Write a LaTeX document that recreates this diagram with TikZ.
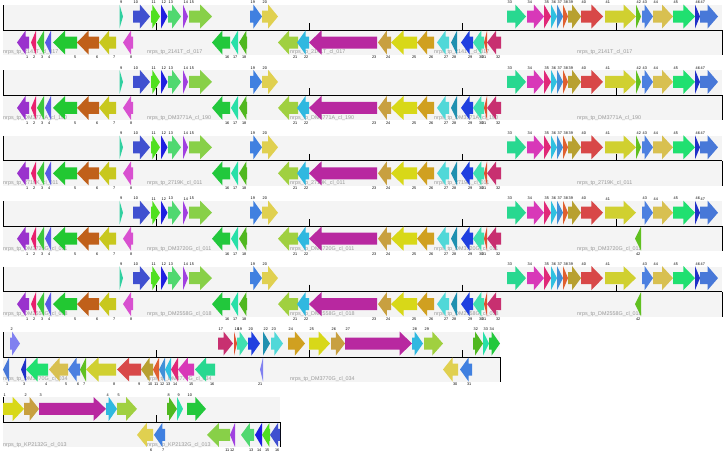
\documentclass[tikz,border=0pt]{standalone}
\usepackage{fontspec}
\setmainfont{Liberation Sans}
% gene family colours
\definecolor{bandgray}{HTML}{F4F4F4}
\definecolor{namegray}{HTML}{999999}
\definecolor{g1}{HTML}{9A32CD}\definecolor{g2}{HTML}{E8206E}\definecolor{g3}{HTML}{3DC83D}
\definecolor{g4}{HTML}{5A5AE6}\definecolor{g5}{HTML}{22C832}\definecolor{g6}{HTML}{C0601A}
\definecolor{g7}{HTML}{C8C81E}\definecolor{g8}{HTML}{D850D0}\definecolor{g9}{HTML}{30D0A0}
\definecolor{g10}{HTML}{4050D0}\definecolor{g11}{HTML}{50E020}\definecolor{g12}{HTML}{2020E0}
\definecolor{g13}{HTML}{50D870}\definecolor{g14}{HTML}{A040E0}\definecolor{g15}{HTML}{88D048}
\definecolor{g16}{HTML}{22C83C}\definecolor{g17}{HTML}{28E0A8}\definecolor{g18}{HTML}{50B820}
\definecolor{g19}{HTML}{4080E0}\definecolor{g20}{HTML}{E0D050}\definecolor{g21}{HTML}{A0D040}
\definecolor{g22}{HTML}{30B8E0}\definecolor{g23}{HTML}{B828A0}\definecolor{g24}{HTML}{C8A040}
\definecolor{g25}{HTML}{D8D818}\definecolor{g26}{HTML}{D0A020}\definecolor{g27}{HTML}{50D8D8}
\definecolor{g28}{HTML}{2090B0}\definecolor{g29}{HTML}{2040E0}\definecolor{g30}{HTML}{40E0B0}
\definecolor{g31}{HTML}{E05030}\definecolor{g32}{HTML}{C83070}\definecolor{g33}{HTML}{28D890}
\definecolor{g34}{HTML}{D838B8}\definecolor{g35}{HTML}{E02878}\definecolor{g36}{HTML}{30C0E0}
\definecolor{g37}{HTML}{4090D8}\definecolor{g38}{HTML}{E06030}\definecolor{g39}{HTML}{B8A030}
\definecolor{g40}{HTML}{D84848}\definecolor{g41}{HTML}{D0D030}\definecolor{g42}{HTML}{60C020}
\definecolor{g43}{HTML}{4C80E0}\definecolor{g44}{HTML}{D8C050}\definecolor{g45}{HTML}{20E070}
\definecolor{g46}{HTML}{2030C8}\definecolor{g47}{HTML}{4878D8}\definecolor{gv}{HTML}{8080F0}
\tikzset{
  band/.style={fill=bandgray},
  axis/.style={line width=.8pt},
  tickmark/.style={line width=.7pt},
  gnum/.style={font=\fontsize{3.8}{4.2}\selectfont,inner sep=0pt},
  cname/.style={font=\fontsize{5.4}{6}\selectfont,text=namegray,inner sep=0pt,anchor=base west},
}
% forward gene: #1 start, #2 end, #3 colour, #4 number
\newcommand\fwdgene[4]{%
  \pgfmathsetmacro\ghead{min(#2-#1,12.5,5+0.3*(#2-#1))}%
  \fill[#3] (#1,-19.5)--({#2-\ghead},-19.5)--({#2-\ghead},-25.5)--(#2,-13.5)
    --({#2-\ghead},-1.5)--({#2-\ghead},-7.5)--(#1,-7.5)--cycle;
  \node[gnum,anchor=south west] (r\rowid g#4) at ({#1+0.5},-26) {#4};}
% reverse gene
\newcommand\revgene[4]{%
  \pgfmathsetmacro\ghead{min(#2-#1,12.5,5+0.3*(#2-#1))}%
  \fill[#3] (#2,6.5)--({#1+\ghead},6.5)--({#1+\ghead},0.5)--(#1,12.5)
    --({#1+\ghead},24.5)--({#1+\ghead},18.5)--(#2,18.5)--cycle;
  \node[gnum,anchor=north east] (r\rowid g#4) at ({#2-0.5},26) {#4};}
% track: #1 right end, #2 ticks, #3 name positions, #4 name
\newcommand\trackbase[4]{%
  \fill[band] (3,-25) rectangle (#1,25);
  \foreach \nx [count=\ni] in {#3} \node[cname] (r\rowid n\ni) at (\nx,23.8) {#4};
  \draw[axis] (3,0) -- (#1,0);
  \draw[axis] (3,-25) -- (3,0);
  \draw[axis] (#1,0) -- (#1,25);
  \foreach \tx in {#2} \draw[tickmark] (\tx,-7) -- (\tx,0);}
% cluster shared by the first five tracks (gene 42 added per track)
\newcommand\clusterA{%
  \revgene{17}{29}{g1}{1}
  \revgene{31}{36}{g2}{2}
  \revgene{37}{44}{g3}{3}
  \revgene{45}{51}{g4}{4}
  \revgene{53}{77}{g5}{5}
  \revgene{77}{99}{g6}{6}
  \revgene{99}{116}{g7}{7}
  \revgene{123}{133}{g8}{8}
  \fwdgene{119.5}{123}{g9}{9}
  \fwdgene{133}{150}{g10}{10}
  \fwdgene{151}{160}{g11}{11}
  \fwdgene{161}{167.5}{g12}{12}
  \fwdgene{168}{181}{g13}{13}
  \fwdgene{183}{188}{g14}{14}
  \fwdgene{189}{212}{g15}{15}
  \revgene{212}{230}{g16}{16}
  \revgene{231}{238}{g17}{17}
  \revgene{239}{247}{g18}{18}
  \fwdgene{250}{262}{g19}{19}
  \fwdgene{262}{278}{g20}{20}
  \revgene{278}{298}{g21}{21}
  \revgene{297}{309}{g22}{22}
  \revgene{309}{377}{g23}{23}
  \revgene{378}{391}{g24}{24}
  \revgene{391}{417}{g25}{25}
  \revgene{417}{434}{g26}{26}
  \revgene{437}{449}{g27}{27}
  \revgene{451}{457}{g28}{28}
  \revgene{461}{473}{g29}{29}
  \revgene{473}{484}{g30}{30}
  \revgene{484}{487}{g31}{31}
  \revgene{487}{501}{g32}{32}
  \fwdgene{507}{526}{g33}{33}
  \fwdgene{527}{544}{g34}{34}
  \fwdgene{544}{551}{g35}{35}
  \fwdgene{551}{557}{g36}{36}
  \fwdgene{557}{563}{g37}{37}
  \fwdgene{563}{568}{g38}{38}
  \fwdgene{568}{581}{g39}{39}
  \fwdgene{581}{603}{g40}{40}
  \fwdgene{605}{636}{g41}{41}
  \fwdgene{642}{653}{g43}{43}
  \fwdgene{653}{673}{g44}{44}
  \fwdgene{673}{695}{g45}{45}
  \fwdgene{695}{700}{g46}{46}
  \fwdgene{700}{718}{g47}{47}}
\begin{document}
\begin{tikzpicture}[x=1pt,y=-1pt]
\useasboundingbox (0,0) rectangle (726,451);
% track 1
\begin{scope}[shift={(0,30)}]\def\rowid{1}
\trackbase{722}{156,309,462,616}{3,147,290,434,577}{nrps\_tp\_2141T\_cl\_017}
\clusterA
\fwdgene{636}{641}{g42}{42}
\end{scope}
% track 2
\begin{scope}[shift={(0,95.4)}]\def\rowid{2}
\trackbase{722}{156,309,462,616}{3,147,290,434,577}{nrps\_tp\_DM3771A\_cl\_190}
\clusterA
\fwdgene{636}{641}{g42}{42}
\end{scope}
% track 3
\begin{scope}[shift={(0,160.8)}]\def\rowid{3}
\trackbase{722}{156,309,462,616}{3,147,290,434,577}{nrps\_tp\_2719K\_cl\_011}
\clusterA
\fwdgene{636}{641}{g42}{42}
\end{scope}
% track 4
\begin{scope}[shift={(0,226.2)}]\def\rowid{4}
\trackbase{722}{156,309,462,616}{3,147,290,434,577}{nrps\_tp\_DM3720G\_cl\_011}
\clusterA
\revgene{635}{641}{g42}{42}
\end{scope}
% track 5
\begin{scope}[shift={(0,291.6)}]\def\rowid{5}
\trackbase{722}{156,309,462,616}{3,147,290,434,577}{nrps\_tp\_DM2558G\_cl\_018}
\clusterA
\revgene{635}{641}{g42}{42}
\end{scope}
% track 6 (reversed cluster)
\begin{scope}[shift={(0,357)}]\def\rowid{6}
\trackbase{500}{156,309,462}{3,147,290}{nrps\_tp\_DM3770G\_cl\_034}
\revgene{3}{9}{g47}{1}
\fwdgene{10}{20}{gv}{2}
\revgene{21}{26}{g46}{3}
\revgene{26}{48}{g45}{4}
\revgene{49}{68}{g44}{5}
\revgene{68}{80}{g43}{6}
\revgene{80}{86}{g42}{7}
\revgene{86}{116}{g41}{8}
\revgene{117}{141}{g40}{9}
\revgene{141}{153}{g39}{10}
\revgene{153}{159}{g38}{11}
\revgene{159}{165}{g37}{12}
\revgene{165}{171}{g36}{13}
\revgene{171}{178}{g35}{14}
\revgene{178}{194}{g34}{15}
\revgene{195}{215}{g33}{16}
\fwdgene{218}{233}{g32}{17}
\fwdgene{234}{237}{g31}{18}
\fwdgene{237}{248}{g30}{19}
\fwdgene{248}{260}{g29}{20}
\revgene{260}{263}{gv}{21}
\fwdgene{263}{270}{g28}{22}
\fwdgene{271}{283}{g27}{23}
\fwdgene{288}{305}{g26}{24}
\fwdgene{309}{330}{g25}{25}
\fwdgene{331}{345}{g24}{26}
\fwdgene{345}{412}{g23}{27}
\fwdgene{412}{423}{g22}{28}
\fwdgene{424}{443}{g21}{29}
\revgene{443}{458}{g20}{30}
\revgene{460}{472}{g19}{31}
\fwdgene{473}{483}{g18}{32}
\fwdgene{483}{489}{g17}{33}
\fwdgene{489}{500}{g16}{34}
\end{scope}
% track 7
\begin{scope}[shift={(0,422.4)}]\def\rowid{7}
\trackbase{280}{156}{3,147}{nrps\_tp\_KP2132G\_cl\_013}
\fwdgene{3}{24}{g25}{1}
\fwdgene{24}{39}{g24}{2}
\fwdgene{39}{106}{g23}{3}
\fwdgene{106}{117}{g22}{4}
\fwdgene{117}{137}{g21}{5}
\revgene{137}{153}{g20}{6}
\revgene{154}{165}{g19}{7}
\fwdgene{167}{177}{g18}{8}
\fwdgene{177}{183}{g17}{9}
\fwdgene{187}{206}{g16}{10}
\revgene{207}{230}{g15}{11}
\revgene{230}{235}{g14}{12}
\revgene{241}{254}{g13}{13}
\revgene{255}{262}{g12}{14}
\revgene{262}{270}{g11}{15}
\revgene{270}{280}{g10}{16}
\end{scope}
\end{tikzpicture}
\end{document}
